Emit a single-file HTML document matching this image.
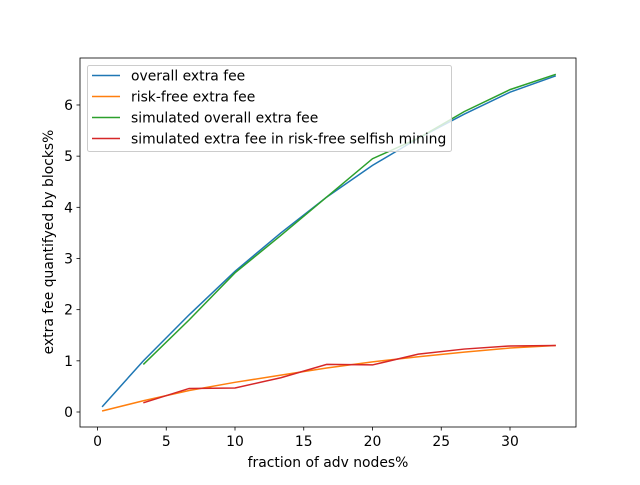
<!DOCTYPE html>
<html><head><meta charset="utf-8"><style>
body{margin:0;background:#fff}
svg text{font-family:"DejaVu Sans","Liberation Sans",sans-serif;fill:#000}
</style></head><body>
<svg id="chart" width="640" height="480" xmlns="http://www.w3.org/2000/svg">
<rect width="640" height="480" fill="#fff"/>
<g id="plot"></g>
<text x="328" y="467" font-size="13.9" text-anchor="middle">fraction of adv nodes%</text>
<text transform="translate(53,242) rotate(-90)" font-size="13.9" text-anchor="middle">extra fee quantifyed by blocks%</text>
</svg>
<script>
const xs = [0.333,3.333,6.667,10,13.333,16.667,20,23.333,26.667,30,33.333];
const overall = [0.1,1.0,1.9,2.75,3.5,4.2,4.82,5.35,5.82,6.25,6.57];
const riskFree = [0.02,0.22,0.42,0.58,0.72,0.86,0.98,1.08,1.17,1.25,1.3];
const simXs = [3.333,6.667,10,13.333,16.667,20,23.333,26.667,30,33.333];
const simOverall = [0.93,1.8,2.72,3.45,4.2,4.95,5.35,5.87,6.3,6.6];
const simRiskFree = [0.18,0.46,0.47,0.67,0.93,0.92,1.13,1.23,1.29,1.3];
const xTicks = [0,5,10,15,20,25,30];
const yTicks = [0,1,2,3,4,5,6];
const seriesNames = ["overall extra fee","risk-free extra fee","simulated overall extra fee","simulated extra fee in risk-free selfish mining"];

const L=80,R=576,T=58,B=427;
const X=v=>97.5+v*13.75;
const Y=v=>412-v*51.17;
const NS="http://www.w3.org/2000/svg";
const g=document.getElementById('plot');
function mk(t,a,p){const e=document.createElementNS(NS,t);for(const k in a)e.setAttribute(k,a[k]);(p||g).appendChild(e);return e;}
xTicks.forEach(v=>{
  const l=mk('line',{x1:X(v),x2:X(v),y1:B,y2:B+3.5,stroke:'#000','stroke-width':0.8});
  
  
  const t=mk('text',{x:X(v),y:B+19,'font-size':13.9,'text-anchor':'middle'});t.textContent=v;
  
  
});
yTicks.forEach(v=>{
  const l=mk('line',{x1:L-3.5,x2:L,y1:Y(v),y2:Y(v),stroke:'#000','stroke-width':0.8});
  
  
  const t=mk('text',{x:L-7,y:Y(v)+5,'font-size':13.9,'text-anchor':'end'});t.textContent=v;
  
  
});
const series=[[xs,overall,'#1f77b4','overall-line'],[xs,riskFree,'#ff7f0e','risk-free-line'],[simXs,simOverall,'#2ca02c','simulated-overall-line'],[simXs,simRiskFree,'#d62728','simulated-risk-free-line']];
series.forEach(s=>{
  const p=mk('polyline',{points:s[0].map((x,i)=>X(x)+','+Y(s[1][i])).join(' '),fill:'none',stroke:s[2],'stroke-width':1.5});
  
  
});
const f=mk('rect',{x:L,y:T,width:R-L,height:B-T,fill:'none',stroke:'#000','stroke-width':0.8});


const lg=mk('g',{});


mk('rect',{x:87.5,y:65.5,width:364,height:86,rx:2,fill:'#fff','fill-opacity':0.8,stroke:'#ccc'},lg);
seriesNames.forEach((n,i)=>{
  const y=75.5+i*21;
  const ln=mk('line',{x1:92,x2:120,y1:y,y2:y,stroke:series[i][2],'stroke-width':1.5},lg);
  
  
  const t=mk('text',{x:131,y:y+5,'font-size':13.9},lg);t.textContent=n;
  
  
});
</script>
</body></html>
